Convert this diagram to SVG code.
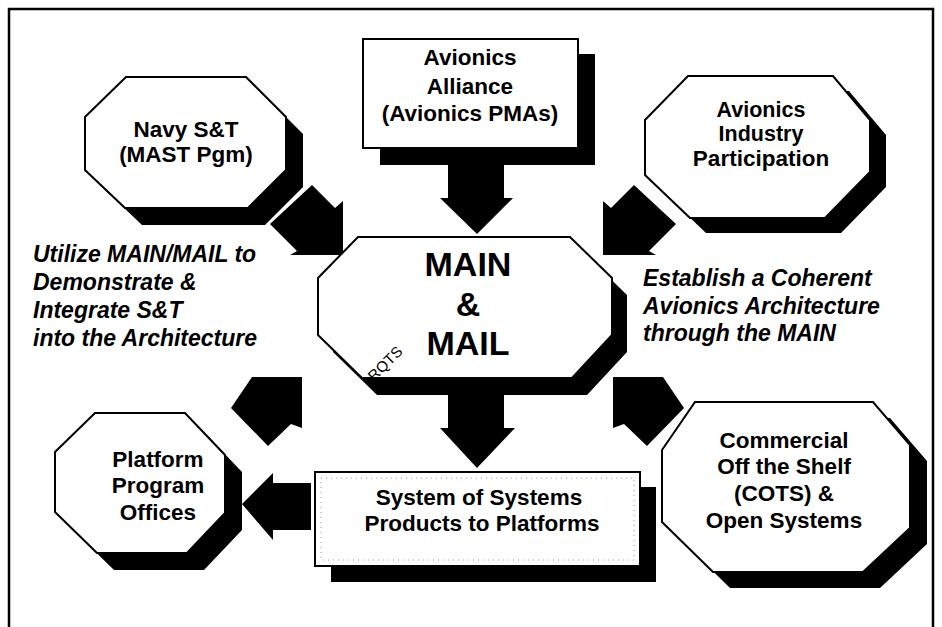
<svg xmlns="http://www.w3.org/2000/svg" width="942" height="627" viewBox="0 0 942 627">
  <style>
    .frame { fill: none; stroke: #000; stroke-width: 2.5; }
    .box { fill: #fff; stroke: #000; stroke-width: 2; }
    .shadow { fill: #000; }
    .arrow { fill: #000; }
    .label { font-family: "Liberation Sans", Arial, Helvetica, sans-serif; font-weight: bold; font-size: 22.5px; text-anchor: middle; fill: #000; }
    .big { font-size: 34px; }
    .tight { font-size: 21.5px; }
    .note { font-family: "Liberation Sans", Arial, Helvetica, sans-serif; font-weight: bold; font-style: italic; font-size: 23px; fill: #000; }
    .tag { font-family: "Liberation Sans", Arial, Helvetica, sans-serif; font-size: 15px; fill: #000; }
    .stipple { fill: none; stroke: #9a9a9a; stroke-width: 1; stroke-dasharray: 1 4; }
  </style>

  <rect width="942" height="627" fill="#fff"/>

  <!-- open frame: left, top and right sides -->
  <path class="frame" d="M9,627 V9 H933 V627"/>

  <!-- connectors: block arrows -->
  <g id="connectors">
    <!-- Avionics Alliance down to MAIN -->
    <polygon class="arrow" points="448,160 504,160 504,198 513,198 477,234 440,198 448,198"/>
    <!-- Navy S&T to MAIN -->
    <polygon class="arrow" points="312,185 335,208 343,201 343,255 290,255 297,251 270,224"/>
    <!-- Avionics Industry to MAIN -->
    <polygon class="arrow" points="634,185 611,208 603,201 603,255 656,255 649,251 676,224"/>
    <!-- Platform Program Offices (RQTS) up to MAIN -->
    <polygon class="arrow" points="231,408 252,377 302,377 302,428 291,424 268,446"/>
    <!-- COTS & Open Systems up to MAIN -->
    <polygon class="arrow" points="684,408 663,377 613,377 613,428 624,424 647,446"/>
    <!-- MAIN down to System of Systems -->
    <polygon class="arrow" points="448,385 504,385 504,428 515,428 477,468 440,428 448,428"/>
    <!-- System of Systems to Platform Program Offices -->
    <polygon class="arrow" points="242,504 273,473 273,483 311,483 311,530 273,530 273,540"/>
  </g>

  <!-- Avionics Alliance -->
  <g id="alliance">
    <rect class="shadow" x="380" y="54" width="215" height="111"/>
    <rect class="box" x="363" y="39" width="215" height="109"/>
    <text class="label" x="470" y="65">Avionics</text>
    <text class="label" x="470" y="94">Alliance</text>
    <text class="label" x="470" y="121">(Avionics PMAs)</text>
  </g>

  <!-- Navy S&T -->
  <g id="navy">
    <polygon class="shadow" transform="translate(17,17)" points="126,77 246,77 286,117 286,170 248,208 125,208 85,170 85,117"/>
    <polygon class="box" points="126,77 246,77 286,117 286,170 248,208 125,208 85,170 85,117"/>
    <text class="label" x="186" y="137">Navy S&amp;T</text>
    <text class="label" x="186" y="162">(MAST Pgm)</text>
  </g>

  <!-- Avionics Industry Participation -->
  <g id="industry">
    <polygon class="shadow" transform="translate(16,15)" points="688,76 833,76 870,120 870,172 825,218 690,218 645,175 645,120"/>
    <polygon class="box" points="688,76 833,76 870,120 870,172 825,218 690,218 645,175 645,120"/>
    <text class="label tight" x="761" y="117">Avionics</text>
    <text class="label tight" x="761" y="141">Industry</text>
    <text class="label" x="761" y="166">Participation</text>
  </g>

  <!-- MAIN & MAIL -->
  <g id="main">
    <polygon class="shadow" transform="translate(15,17)" points="358,237 570,237 612,278 612,335 572,378 362,378 318,335 318,278"/>
    <polygon class="box" points="358,237 570,237 612,278 612,335 572,378 362,378 318,335 318,278"/>
    <text class="label big" x="468" y="276">MAIN</text>
    <text class="label big" x="468" y="316">&amp;</text>
    <text class="label big" x="468" y="355">MAIL</text>
    <text class="tag" transform="translate(374,382) rotate(-45)">RQTS</text>
  </g>

  <!-- side notes -->
  <g id="note-left">
    <text class="note" x="33" y="262">Utilize MAIN/MAIL to</text>
    <text class="note" x="33" y="290">Demonstrate &amp;</text>
    <text class="note" x="33" y="318">Integrate S&amp;T</text>
    <text class="note" x="33" y="346">into the Architecture</text>
  </g>
  <g id="note-right">
    <text class="note" x="643" y="286">Establish a Coherent</text>
    <text class="note" x="643" y="314">Avionics Architecture</text>
    <text class="note" x="643" y="341">through the MAIN</text>
  </g>

  <!-- Platform Program Offices -->
  <g id="platform">
    <polygon class="shadow" transform="translate(17,17)" points="95,413 185,413 225,455 225,513 187,553 97,553 55,512 55,452"/>
    <polygon class="box" points="95,413 185,413 225,455 225,513 187,553 97,553 55,512 55,452"/>
    <text class="label" x="158" y="467">Platform</text>
    <text class="label" x="158" y="493">Program</text>
    <text class="label" x="158" y="520">Offices</text>
  </g>

  <!-- System of Systems Products to Platforms -->
  <g id="sos">
    <rect class="shadow" x="331" y="487" width="325" height="95"/>
    <rect class="box" x="315" y="472" width="325" height="94"/>
    <rect class="stipple" x="321" y="478" width="313" height="82"/>
    <text class="label" x="479" y="505">System of Systems</text>
    <text class="label" x="482" y="531">Products to Platforms</text>
  </g>

  <!-- Commercial Off the Shelf -->
  <g id="cots">
    <polygon class="shadow" transform="translate(17,16)" points="695,402 873,402 910,445 910,528 863,572 713,572 662,522 662,450"/>
    <polygon class="box" points="695,402 873,402 910,445 910,528 863,572 713,572 662,522 662,450"/>
    <text class="label" x="784" y="448">Commercial</text>
    <text class="label" x="784" y="474">Off the Shelf</text>
    <text class="label" x="784" y="501">(COTS) &amp;</text>
    <text class="label" x="784" y="528">Open Systems</text>
  </g>
</svg>
